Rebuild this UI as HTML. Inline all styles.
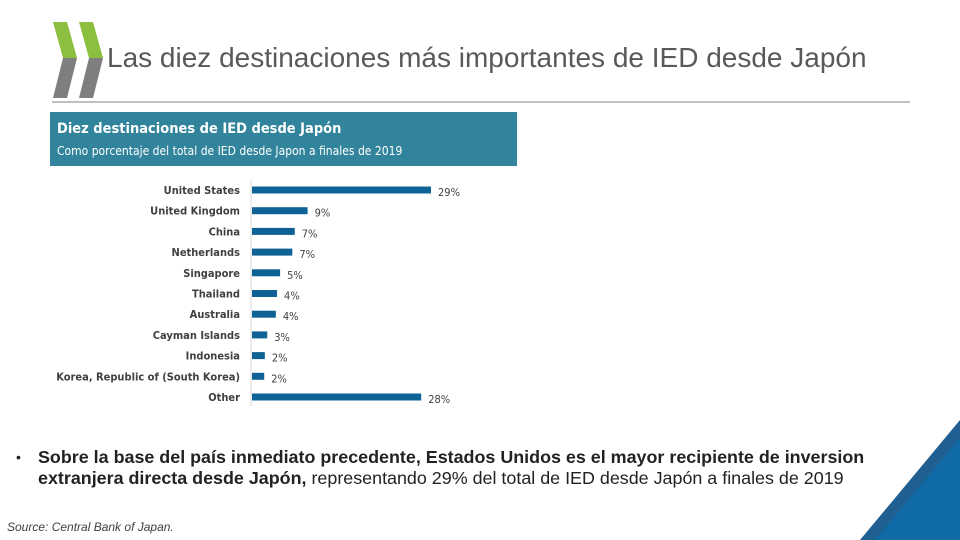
<!DOCTYPE html>
<html><head><meta charset="utf-8"><style>
body{margin:0;width:960px;height:540px;overflow:hidden;background:#fff;font-family:"Liberation Sans",sans-serif;position:relative}
.abs{position:absolute}
</style></head><body>
<svg class="abs" style="left:0;top:0" width="960" height="540">
 <g>
  <polygon points="53,22 67,22 77,58 63,58" fill="#8cbf3f"/>
  <polygon points="63,58 77,58 67,98 53,98" fill="#7f7f7f"/>
  <polygon points="79,22 93,22 103,58 89,58" fill="#8cbf3f"/>
  <polygon points="89,58 103,58 93,98 79,98" fill="#7f7f7f"/>
 </g>
 <line x1="52" y1="102" x2="910" y2="102" stroke="#808080" stroke-width="1"/>
 <polygon points="860,540 960,420 960,540" fill="#1f5f92"/>
 <polygon points="875,540 960,438 960,540" fill="#0f6aa6"/>
</svg>
<div class="abs" style="left:107px;top:42px;font-size:28px;color:#595959;white-space:nowrap">Las diez destinaciones más importantes de IED desde Japón</div>
<div class="abs" style="left:50px;top:112px;width:467px;height:54px;background:#31849b;color:#fff;font-family:'DejaVu Sans Condensed','Liberation Sans',sans-serif">
 <div style="position:absolute;left:7px;top:9px;font-size:14.5px;font-weight:bold">Diez destinaciones de IED desde Japón</div>
 <div style="position:absolute;left:7px;top:32px;font-size:12px;white-space:nowrap">Como porcentaje del total de IED desde Japon a finales de 2019</div>
</div>
<svg class="abs" id="chart" style="left:0;top:0" width="960" height="540"></svg>
<div class="abs" style="left:16px;top:447px;width:900px;font-size:17.9px;line-height:21px;color:#222;white-space:nowrap">
 <span style="position:absolute;left:0;font-size:14px">•</span>
 <div style="margin-left:22px"><b>Sobre la base del país inmediato precedente, Estados Unidos es el mayor recipiente de inversion<br>extranjera directa desde Japón,</b> representando 29% del total de IED desde Japón a finales de 2019</div>
</div>
<div class="abs" style="left:7px;top:520px;font-size:12px;font-style:italic;color:#404040">Source: Central Bank of Japan.</div>
<script>
const categories=["United States","United Kingdom","China","Netherlands","Singapore","Thailand","Australia","Cayman Islands","Indonesia","Korea, Republic of (South Korea)","Other"];
const values=[29.3,9.1,7.0,6.6,4.6,4.1,3.9,2.5,2.1,2.0,27.7];
const labels=["29%","9%","7%","7%","5%","4%","4%","3%","2%","2%","28%"];
const svg=document.getElementById('chart');
const NS="http://www.w3.org/2000/svg";
const x0=252,pxPer=179/29.3,y0=190,step=20.7;
const xs=v=>v*pxPer, ys=i=>y0+i*step;
const ax=document.createElementNS(NS,'line');
ax.setAttribute('x1',251);ax.setAttribute('x2',251);ax.setAttribute('y1',180);ax.setAttribute('y2',406);
ax.setAttribute('stroke','#d9d9d9');


svg.appendChild(ax);
categories.forEach((c,i)=>{
 const y=ys(i);
 const t=document.createElementNS(NS,'text');
 t.setAttribute('x',240);t.setAttribute('y',y+4);t.setAttribute('text-anchor','end');
 t.setAttribute('font-size','11');t.setAttribute('font-weight','bold');t.setAttribute('fill','#404040');
 t.setAttribute('font-family','DejaVu Sans Condensed, Liberation Sans, sans-serif');
 t.textContent=c;
 
 
 svg.appendChild(t);
 const r=document.createElementNS(NS,'rect');
 r.setAttribute('x',x0);r.setAttribute('y',y-3.5);r.setAttribute('width',xs(values[i]));r.setAttribute('height',7);
 r.setAttribute('fill','#0f6296');
 
 
 svg.appendChild(r);
 const l=document.createElementNS(NS,'text');
 l.setAttribute('x',x0+xs(values[i])+7);l.setAttribute('y',y+6);
 l.setAttribute('font-size','11');l.setAttribute('fill','#404040');
 l.setAttribute('font-family','DejaVu Sans Condensed, Liberation Sans, sans-serif');
 l.textContent=labels[i];
 
 
 svg.appendChild(l);
});
</script>
</body></html>
